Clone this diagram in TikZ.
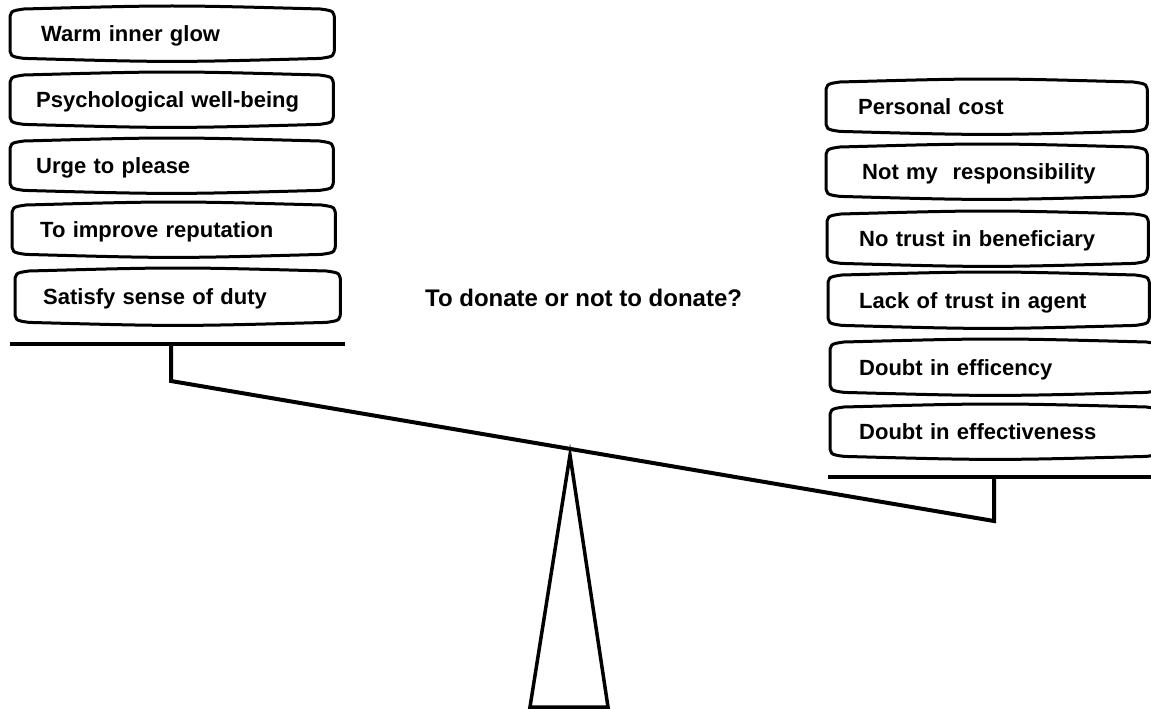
\documentclass[tikz,border=0pt]{standalone}
\usepackage{fontspec}
\setmainfont{Liberation Sans}
\begin{document}
\begin{tikzpicture}[x=1pt,y=-1pt,
  wbox/.style 2 args={anchor=north west,
    minimum width=#1, minimum height=47pt, inner xsep=#2, inner ysep=0pt,
    text height=16pt, text depth=0pt,
    text width=#1-2*#2-4pt, align=left, font=\fontsize{22}{24}\selectfont\bfseries},
  outline/.style={line width=3pt, line join=round},
  bar/.style={line width=4pt},
  lbl/.style={font=\fontsize{24}{26}\selectfont\bfseries, anchor=west, inner sep=0pt}]
\useasboundingbox (0,0) rectangle (1151,709);
% left boxes
\node[wbox={324pt}{29pt}] (l1) at (10,10) {Warm inner glow};
\node[wbox={323pt}{24pt}] (l2) at (10,76) {Psychological well-being};
\node[wbox={323pt}{24pt}] (l3) at (10,142) {Urge to please};
\node[wbox={323pt}{26pt}] (l4) at (12,206) {To improve reputation};
\node[wbox={325pt}{26pt}, minimum height=49pt] (l5) at (15,272) {Satisfy sense of duty};
% right boxes
\node[wbox={321pt}{30pt}] (r1) at (826,83) {Personal cost};
\node[wbox={321pt}{34pt}] (r2) at (826,148) {Not my\ \ responsibility};
\node[wbox={321pt}{30pt}] (r3) at (827,215) {No trust in beneficiary};
\node[wbox={321pt}{29pt}, minimum height=48pt] (r4) at (828,276) {Lack of trust in agent};
\node[wbox={330pt}{27pt}, minimum height=48pt] (r5) at (830,343) {Doubt in efficency};
\node[wbox={330pt}{27pt}] (r6) at (830,408) {Doubt in effectiveness};
% box outlines
\foreach \n in {l1,l2,l3,l4,l5,r1,r2,r3,r4,r5,r6}{
  \draw[outline] ([yshift=-12]\n.north west)
    .. controls ([yshift=-1]\n.north west) .. ([xshift=14,yshift=1]\n.north west)
    .. controls ([yshift=5]\n.north) .. ([xshift=-14,yshift=1]\n.north east)
    .. controls ([yshift=-1]\n.north east) .. ([yshift=-12]\n.north east)
    -- ([yshift=12]\n.south east)
    .. controls ([yshift=1]\n.south east) .. ([xshift=-14,yshift=-1]\n.south east)
    .. controls ([yshift=-5]\n.south) .. ([xshift=14,yshift=-1]\n.south west)
    .. controls ([yshift=1]\n.south west) .. ([yshift=12]\n.south west)
    -- cycle;
}
% title
\node[lbl] (q) at (425,298) {To donate or not to donate?};
% scale
\coordinate (lpa) at (10,344);
\coordinate (lpb) at (345,344);
\coordinate (lpm) at (171,344);
\coordinate (bl) at (171,381);
\coordinate (br) at (994,521);
\coordinate (rpm) at (994,477);
\coordinate (rpa) at (828,477);
\coordinate (rpb) at (1151,477);
\coordinate (apex) at (570,455);
\coordinate (basel) at (530,707);
\coordinate (baser) at (608,707);
\draw[bar] (lpa) -- (lpb);
\draw[bar] (rpa) -- (rpb);
\draw[bar] (lpm) -- (bl) -- (br) -- (rpm);
\draw[line width=3.5pt, line join=miter] (basel) -- (apex) -- (baser) -- cycle;
\end{tikzpicture}
\end{document}
